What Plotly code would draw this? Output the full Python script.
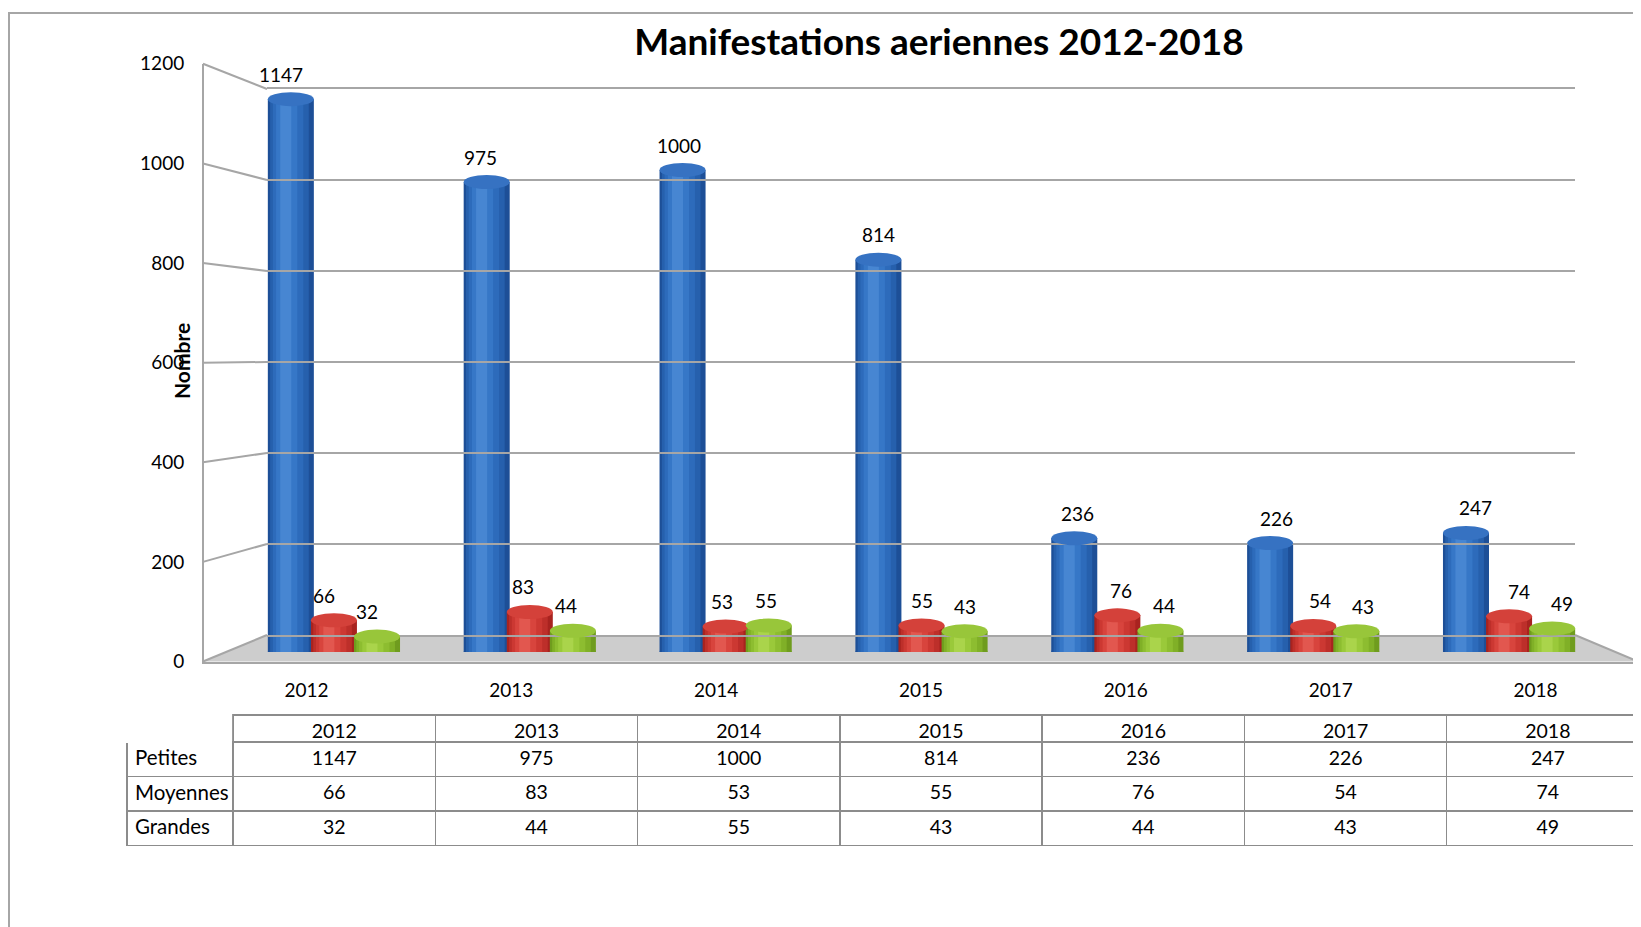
import plotly.graph_objects as go

# ---------------- data ----------------
years = ["2012", "2013", "2014", "2015", "2016", "2017", "2018"]
series_names = ["Petites", "Moyennes", "Grandes"]
petites = [1147, 975, 1000, 814, 236, 226, 247]
moyennes = [66, 83, 53, 55, 76, 54, 74]
grandes = [32, 44, 55, 43, 44, 43, 49]
y_ticks = [0, 200, 400, 600, 800, 1000, 1200]
title_text = "Manifestations aeriennes 2012-2018"
y_title = "Nombre"

# ---------------- layout helpers (page pixel -> paper) ----------------
W, H = 1641, 927
OFF = 8  # default page body margin
def px(x):
    return (x - OFF) / W
def py(y):
    return 1 - (y - OFF) / H

FONT = "Lato, 'Open Sans', Arial, sans-serif"
GRID = "#a6a6a6"

series = [petites, moyennes, grandes]
# gradient layers (dark edge -> bright core) per series
layer_cols = [
    ["#1d4f97", "#2660ad", "#2d6bbb", "#3677c7", "#4786d2"],
    ["#a8231f", "#bd2f2a", "#cc3832", "#d8443d", "#e2574f"],
    ["#6f9c1e", "#80b027", "#8dbd30", "#9ac93a", "#aad44b"],
]
cap_cols = ["#3672c2", "#d4413a", "#98c63a"]
layer_w = [1.0, 0.84, 0.66, 0.46, 0.24]
layer_shift = [0.0, -0.03, -0.06, -0.09, -0.11]
offsets = [-0.22, 0.0, 0.22]
bw = 0.235

fig = go.Figure()

for s, vals in enumerate(series):
    c = offsets[s]
    for k in range(len(layer_w)):
        w = bw * layer_w[k]
        center = c + bw * layer_shift[k]
        fig.add_trace(go.Bar(x=years, y=vals, name=series_names[s], width=w,
                             offset=center - w / 2, marker_color=layer_cols[s][k],
                             marker_line_width=0, hoverinfo="skip", showlegend=False))

# invisible traces to activate the front and back axes
fig.add_trace(go.Scatter(x=years, y=petites, mode="markers", marker_opacity=0,
                         xaxis="x2", yaxis="y2", hoverinfo="skip", showlegend=False))
fig.add_trace(go.Scatter(x=years, y=petites, mode="markers", marker_opacity=0,
                         xaxis="x3", yaxis="y3", hoverinfo="skip", showlegend=False))

# value labels
anns = []
for s, vals in enumerate(series):
    for i, v in enumerate(vals):
        anns.append(dict(x=i + offsets[s], y=v, xref="x", yref="y", text=str(v),
                         showarrow=False, yshift=25, xshift=(i - 3) * 3.2,
                         font=dict(family=FONT, size=19, color="black")))

# axis title
anns.append(dict(x=px(181), y=py(361), xref="paper", yref="paper", text="<b>%s</b>" % y_title,
                 xanchor="center", yanchor="middle",
                 textangle=-90, showarrow=False, font=dict(family=FONT, size=21, color="black")))

# geometry (page pixels)
front_dom = [py(661.5), py(63.8)]
back_dom = [py(635), py(89)]
x_front_left, x_back_left = 203, 267
x_back_right, x_front_right = 1575, 1638

shapes = []
# outer frame
shapes.append(dict(type="path", xref="paper", yref="paper",
                   path="M %f %f L %f %f L %f %f" % (px(9), py(H + 20), px(9), py(13), px(W + 20), py(13)),
                   line=dict(color=GRID, width=2)))
# floor
shapes.append(dict(type="path", xref="paper", yref="paper", layer="below",
                   path="M %f %f L %f %f L %f %f L %f %f Z" % (
                       px(x_back_left), back_dom[0], px(x_back_right), back_dom[0],
                       px(x_front_right), front_dom[0], px(x_front_left), front_dom[0]),
                   fillcolor="#cdcdcd", line=dict(width=0)))
# right floor diagonal
shapes.append(dict(type="line", xref="paper", yref="paper",
                   x0=px(x_back_right), y0=back_dom[0], x1=px(x_front_right), y1=front_dom[0],
                   line=dict(color=GRID, width=2)))
# left diagonals from front axis ticks to back wall
for v in y_ticks:
    yf = front_dom[0] + v / 1200 * (front_dom[1] - front_dom[0])
    yb = back_dom[0] + v / 1200 * (back_dom[1] - back_dom[0])
    shapes.append(dict(type="line", xref="paper", yref="paper", layer="below",
                       x0=px(x_front_left), y0=yf, x1=px(x_back_left), y1=yb,
                       line=dict(color=GRID, width=2)))

# cylinder caps (top) and rounded bottoms, anchored on the data values
for s, vals in enumerate(series):
    for i, v in enumerate(vals):
        x0 = i + offsets[s] - bw / 2
        x1 = i + offsets[s] + bw / 2
        shapes.append(dict(type="circle", xref="x", yref="y", ysizemode="pixel",
                           yanchor=0, y0=-7, y1=7, x0=x0, x1=x1, layer="below",
                           fillcolor=layer_cols[s][1], line=dict(width=0)))
        shapes.append(dict(type="circle", xref="x", yref="y", ysizemode="pixel",
                           yanchor=v, y0=-7, y1=7, x0=x0, x1=x1, layer="above",
                           fillcolor=cap_cols[s], line=dict(width=0)))

# data table
header_vals = [""] + years
cell_vals = [series_names] + [[petites[i], moyennes[i], grandes[i]] for i in range(len(years))]
line_col = "#8c8c8c"
fig.add_trace(go.Table(
    domain=dict(x=[px(127), 1.0], y=[py(850), py(715)]),
    columnwidth=[106] + [202] * 7,
    header=dict(values=header_vals, height=27, fill_color="white",
                line=dict(color=["white"] + [line_col] * 7, width=1.5),
                align="center", font=dict(family=FONT, size=19.5, color="black")),
    cells=dict(values=cell_vals, height=34.5, fill_color="white",
               line=dict(color=line_col, width=1.5),
               align=["left"] + ["center"] * 7,
               font=dict(family=FONT, size=[20.5] + [19.5] * 7, color="black")),
))

fig.update_layout(
    width=W, height=H, margin=dict(l=0, r=0, t=0, b=0, autoexpand=False),
    paper_bgcolor="white", plot_bgcolor="rgba(0,0,0,0)",
    barmode="overlay", showlegend=False,
    font=dict(family=FONT, color="black"),
    title=dict(text="<b>%s</b>" % title_text, x=px(939), y=py(42),
               xanchor="center", yanchor="middle", automargin=False,
               font=dict(family=FONT, size=37, color="black")),
    xaxis=dict(domain=[px(236), px(1607)], range=[-0.5, 6.5], visible=False,
               type="category", anchor="y", automargin=False),
    yaxis=dict(domain=[py(652), py(73.6)], range=[0, 1200], visible=False, anchor="x",
               automargin=False),
    xaxis2=dict(domain=[px(204), px(x_front_right)], range=[-0.5, 6.5], type="category",
                anchor="y2", showline=True, linecolor=GRID, linewidth=2, showgrid=False,
                zeroline=False, ticks="outside", ticklen=11, tickcolor="rgba(0,0,0,0)",
                automargin=False, tickfont=dict(family=FONT, size=19, color="black")),
    yaxis2=dict(domain=front_dom, range=[0, 1200], tickvals=y_ticks, anchor="x2",
                showline=True, linecolor=GRID, linewidth=2, showgrid=False, zeroline=False,
                ticks="outside", ticklen=14, tickcolor="rgba(0,0,0,0)", automargin=False,
                tickfont=dict(family=FONT, size=19, color="black")),
    xaxis3=dict(domain=[px(x_back_left), px(x_back_right)], range=[-0.5, 6.5], type="category",
                anchor="y3", showline=True, mirror=True, linecolor=GRID, linewidth=2,
                showgrid=False, showticklabels=False, ticks="", zeroline=False, automargin=False),
    yaxis3=dict(domain=back_dom, range=[0, 1200], tickvals=y_ticks, anchor="x3",
                showgrid=True, gridcolor=GRID, gridwidth=2, showticklabels=False,
                showline=False, zeroline=False, ticks="", automargin=False),
    annotations=anns, shapes=shapes,
)

fig.write_html("out.html")
